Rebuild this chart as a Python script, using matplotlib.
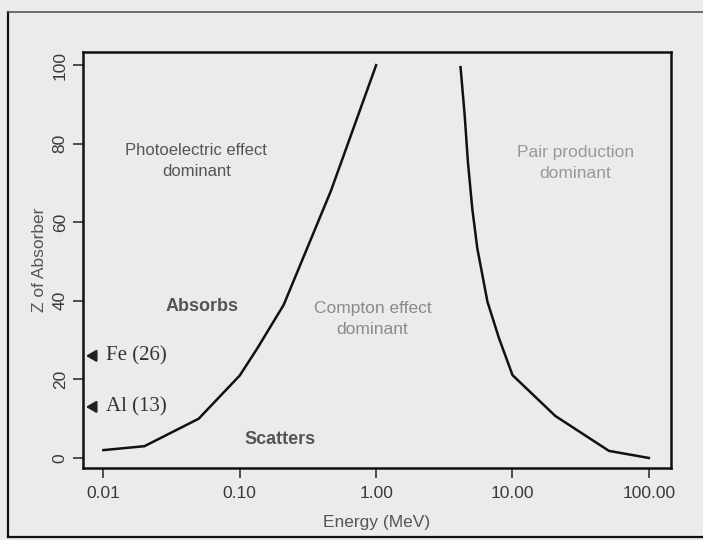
import matplotlib
matplotlib.use("Agg")
import matplotlib.pyplot as plt
from matplotlib.lines import Line2D

# -----------------------------
# DATA
# -----------------------------
# photoelectric / Compton boundary
energy_photo = [0.01, 0.02, 0.05, 0.10, 0.135, 0.21, 0.466, 1.0]
z_photo = [2, 3, 10, 21, 28, 39, 68, 100]

# Compton / pair production boundary
energy_pair = [4.16, 4.46, 4.71, 5.07, 5.52, 6.55, 7.96, 10.0, 20.6, 51.0, 100.0]
z_pair = [99.5, 87.3, 75.4, 63.5, 53.4, 39.8, 30.5, 21.1, 10.7, 1.8, 0]

x_ticks = [0.01, 0.1, 1, 10, 100]
x_tick_labels = ["0.01", "0.10", "1.00", "10.00", "100.00"]
y_ticks = [0, 20, 40, 60, 80, 100]

elements = ["Fe (26)", "Al (13)"]
element_z = [26, 13]

bg = "#ebebeb"

fig = plt.figure(figsize=(7.03, 5.40), dpi=100, facecolor=bg)
ax = fig.add_axes([0.118, 0.133, 0.836, 0.771], facecolor=bg)

ax.plot(energy_photo, z_photo, color="#111111", linewidth=1.8)
ax.plot(energy_pair, z_pair, color="#111111", linewidth=1.8)

ax.set_xscale("log")
ax.set_xlim(10 ** -2.15, 10 ** 2.16)
ax.set_ylim(-2.6, 103.4)

ax.set_xticks(x_ticks)
ax.set_xticklabels(x_tick_labels)
ax.minorticks_off()
ax.set_yticks(y_ticks)
ax.set_yticklabels([str(v) for v in y_ticks], rotation=90, va="center")

for lab in ax.get_xticklabels() + ax.get_yticklabels():
    lab.set_fontfamily("Liberation Sans")
    lab.set_fontsize(12.5)
    lab.set_color("#3a3a3a")
ax.tick_params(axis="both", direction="out", length=7, width=1.2, color="#333333")
ax.tick_params(axis="x", pad=6)
ax.tick_params(axis="y", pad=4)

for s in ax.spines.values():
    s.set_linewidth(1.8)
    s.set_color("#111111")

ax.set_xlabel("Energy (MeV)", family="Liberation Sans", fontsize=12.5, color="#555555", labelpad=10)
ax.set_ylabel("Z of Absorber", family="Liberation Sans", fontsize=12.5, color="#555555", labelpad=4)

# region labels
ax.text(0.048, 75.7, "Photoelectric effect\ndominant", ha="center", va="center",
        family="Liberation Sans", fontsize=12, color="#555555", linespacing=1.5)
ax.text(29.0, 75.0, "Pair production\ndominant", ha="center", va="center",
        family="Liberation Sans", fontsize=12.5, color="#999999", linespacing=1.5)
ax.text(0.94, 35.4, "Compton effect\ndominant", ha="center", va="center",
        family="Liberation Sans", fontsize=12.5, color="#8a8a8a", linespacing=1.5)
ax.text(0.053, 38.5, "Absorbs", ha="center", va="center",
        family="Liberation Sans", fontsize=13, fontweight="bold", color="#555555")
ax.text(0.198, 4.8, "Scatters", ha="center", va="center",
        family="Liberation Sans", fontsize=13, fontweight="bold", color="#555555")

# element markers
for name, z in zip(elements, element_z):
    ax.annotate("", xy=(0.0071, z), xytext=(0.0088, z),
                arrowprops=dict(arrowstyle="-|>,head_length=0.6,head_width=0.35",
                                color="#222222", lw=1.6))
    ax.text(0.0105, z, name, ha="left", va="center",
            family="Liberation Serif", fontsize=15, color="#333333")

# scanned page frame
frame_kw = dict(color="#111111", linewidth=1.6, transform=fig.transFigure)
fig.add_artist(Line2D([0.012, 0.012], [0.005, 0.978], **frame_kw))
fig.add_artist(Line2D([0.012, 1.0], [0.978, 0.978], color="#555555", linewidth=1.2,
                      transform=fig.transFigure))
fig.add_artist(Line2D([0.012, 1.0], [0.006, 0.006], **frame_kw))

fig.savefig("out.png", dpi=100, facecolor=bg)
